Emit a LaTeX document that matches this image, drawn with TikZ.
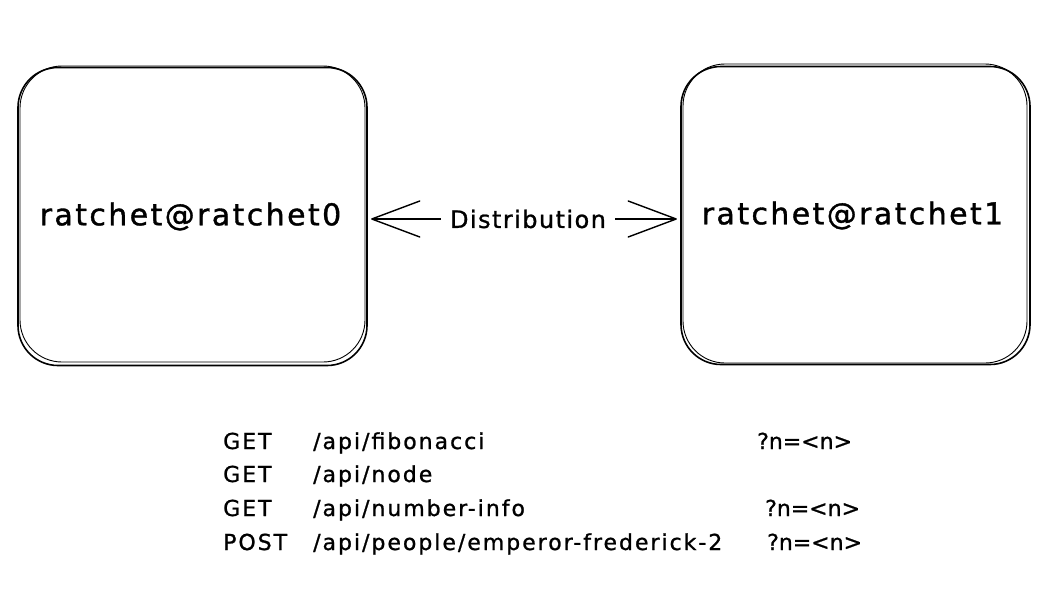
\documentclass[tikz,border=0pt]{standalone}
\usepackage{fontspec}
\setmainfont{DejaVu Sans}
\newfontfamily\boxfont[LetterSpace=8,FakeBold=1.2]{DejaVu Sans}
\newfontfamily\lblfont[LetterSpace=6,FakeBold=1]{DejaVu Sans}
\newfontfamily\apifont[LetterSpace=9,FakeBold=1]{DejaVu Sans}
\newfontfamily\qfont[LetterSpace=0,FakeBold=1]{DejaVu Sans}
\tikzset{
  sketchbox/.style={draw=black, line width=1.6pt, rounded corners=40pt, minimum width=349pt, minimum height=298pt, font=\boxfont\fontsize{30}{32}\selectfont, inner sep=0pt},
  conn/.style={draw=black, line width=1.4pt},
  chev/.style={line width=1.4pt, line cap=round, line join=round},
  lbl/.style={font=\lblfont\fontsize{24}{26}\selectfont, inner sep=0pt},
  api/.style={font=\apifont\fontsize{22}{24}\selectfont, anchor=base west, inner sep=0pt},
  qry/.style={font=\qfont\fontsize{22}{24}\selectfont, anchor=base west, inner sep=0pt}
}
\begin{document}
\begin{tikzpicture}[x=1pt, y=-1pt]
\useasboundingbox (0,0) rectangle (1054,592);
\fill[white] (0,0) rectangle (1054,592);
% boxes
\node[sketchbox] (r0) at (192.5,216.5) {\hspace*{-4pt}ratchet@ratchet0};
\node[sketchbox] (r1) at (855.5,215.5) {\hspace*{-6pt}ratchet@ratchet1};
% sketchy second strokes
\draw[line width=0.9pt, rounded corners=42pt] (20,66) rectangle (365,362);
\draw[line width=0.9pt, rounded corners=42pt] (683,64) rectangle (1027,363);
% connector
\node[lbl] (dist) at (528,219) {Distribution};
\coordinate (a0) at (r0.east |- 0,219);
\coordinate (a1) at (r1.west |- 0,219);
\draw[conn] ([xshift=4pt]a0) -- ([xshift=-9pt]dist.west);
\draw[conn] ([xshift=9pt]dist.east) -- ([xshift=-4pt]a1);
\draw[chev] ([xshift=52pt,yshift=-18pt]a0) -- ([xshift=4pt]a0) -- ([xshift=52pt,yshift=18pt]a0);
\draw[chev] ([xshift=-52pt,yshift=-18pt]a1) -- ([xshift=-4pt]a1) -- ([xshift=-52pt,yshift=18pt]a1);
% api list
\node[api] (m1) at (223,449) {GET};
\node[api] (p1) at (313,449) {/api/fibonacci};
\node[qry] (q1) at (757,449) {?n=<n>};
\node[api] (m2) at (223,482) {GET};
\node[api] (p2) at (313,482) {/api/node};
\node[api] (m3) at (223,516) {GET};
\node[api] (p3) at (313,516) {/api/number-info};
\node[qry] (q3) at (765,516) {?n=<n>};
\node[api] (m4) at (223,550) {POST};
\node[api] (p4) at (313,550) {/api/people/emperor-frederick-2};
\node[qry] (q4) at (767,550) {?n=<n>};
\end{tikzpicture}
\end{document}
